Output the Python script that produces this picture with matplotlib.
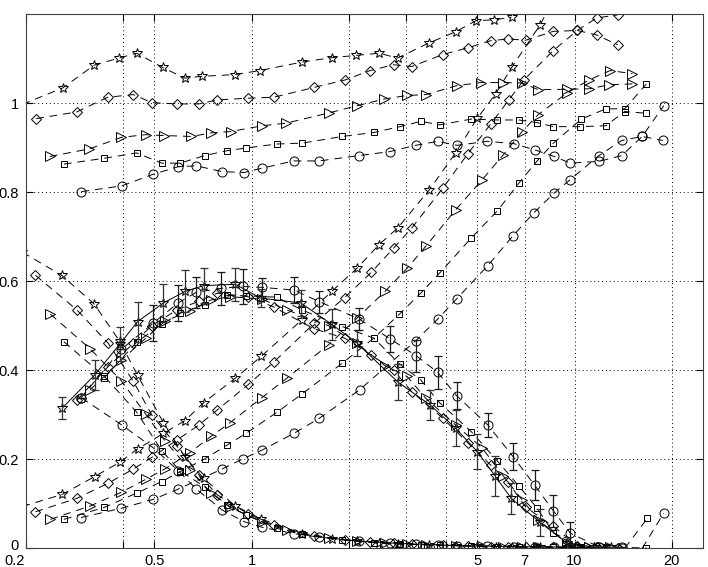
import matplotlib
matplotlib.use("Agg")
import matplotlib.pyplot as plt
from matplotlib.ticker import FixedLocator, FixedFormatter, NullLocator
from matplotlib.transforms import ScaledTranslation

# ---------------- data ----------------
# Group 1: upper, slowly rising curves
g1_star_x = [0.195, 0.26, 0.325, 0.388, 0.44, 0.53, 0.62, 0.70, 0.89, 1.06, 1.43, 1.77, 2.11, 2.48, 2.83, 3.54, 4.28, 4.95, 5.65, 6.38]
g1_star_y = [0.997, 1.034, 1.085, 1.101, 1.112, 1.080, 1.056, 1.060, 1.064, 1.073, 1.092, 1.102, 1.107, 1.112, 1.101, 1.135, 1.160, 1.185, 1.187, 1.193]
g1_dia_x = [0.215, 0.287, 0.358, 0.43, 0.49, 0.586, 0.686, 0.783, 0.977, 1.17, 1.56, 1.95, 2.33, 2.75, 3.13, 3.91, 4.67, 5.5, 6.24, 7.05, 8.6, 10.2, 11.7, 13.6]
g1_dia_y = [0.965, 0.980, 1.013, 1.019, 1.001, 0.998, 0.998, 1.007, 1.011, 1.013, 1.035, 1.052, 1.073, 1.086, 1.082, 1.109, 1.124, 1.140, 1.144, 1.141, 1.161, 1.163, 1.153, 1.131]
g1_tri_x = [0.237, 0.314, 0.395, 0.47, 0.535, 0.65, 0.75, 0.86, 1.08, 1.28, 1.74, 2.12, 2.57, 3.03, 3.47, 4.31, 5.12, 6.0, 6.9, 7.72, 9.45, 11.1, 12.8, 15.1]
g1_tri_y = [0.880, 0.897, 0.923, 0.929, 0.927, 0.925, 0.933, 0.936, 0.949, 0.955, 0.978, 0.994, 1.009, 1.017, 1.019, 1.039, 1.046, 1.046, 1.045, 1.030, 1.031, 1.032, 1.041, 1.043]
g1_sq_x = [0.262, 0.35, 0.44, 0.527, 0.6, 0.715, 0.84, 0.96, 1.195, 1.435, 1.91, 2.39, 2.88, 3.34, 3.82, 4.79, 5.77, 6.72, 7.66, 8.6, 10.4, 12.5, 14.3, 16.7]
g1_sq_y = [0.863, 0.876, 0.888, 0.865, 0.865, 0.882, 0.893, 0.899, 0.908, 0.910, 0.925, 0.934, 0.947, 0.959, 0.951, 0.964, 0.962, 0.962, 0.956, 0.947, 0.947, 0.949, 0.981, 0.977]
g1_ci_x = [0.297, 0.396, 0.495, 0.593, 0.674, 0.81, 0.947, 1.08, 1.35, 1.62, 2.15, 2.68, 3.22, 3.77, 4.33, 5.36, 6.48, 7.52, 8.65, 9.7, 11.9, 14.0, 16.2, 18.9]
g1_ci_y = [0.801, 0.814, 0.840, 0.857, 0.859, 0.846, 0.844, 0.854, 0.870, 0.870, 0.882, 0.891, 0.905, 0.914, 0.905, 0.914, 0.909, 0.895, 0.880, 0.865, 0.869, 0.882, 0.925, 0.994]

# Group 2: curves rising from the lower left
g2_star_x = [0.195, 0.259, 0.326, 0.39, 0.443, 0.533, 0.622, 0.71, 0.89, 1.07, 1.43, 1.77, 2.12, 2.48, 2.83, 3.55, 4.28, 5.0, 5.7, 6.39, 7.83, 9.0]
g2_star_y = [0.094, 0.121, 0.161, 0.193, 0.223, 0.258, 0.287, 0.327, 0.382, 0.431, 0.513, 0.577, 0.629, 0.682, 0.719, 0.805, 0.888, 0.966, 1.021, 1.080, 1.176, 1.26]
g2_dia_x = [0.214, 0.287, 0.359, 0.43, 0.49, 0.586, 0.687, 0.783, 0.977, 1.17, 1.56, 1.94, 2.35, 2.75, 3.13, 3.91, 4.67, 5.5, 6.26, 6.97, 8.6, 10.2, 11.7, 13.6]
g2_dia_y = [0.082, 0.112, 0.146, 0.178, 0.204, 0.243, 0.277, 0.311, 0.368, 0.418, 0.505, 0.563, 0.620, 0.674, 0.719, 0.809, 0.886, 0.953, 1.007, 1.052, 1.118, 1.163, 1.191, 1.198]
g2_tri_x = [0.238, 0.316, 0.395, 0.47, 0.538, 0.644, 0.75, 0.857, 1.074, 1.29, 1.73, 2.12, 2.59, 3.03, 3.46, 4.28, 5.18, 6.02, 6.88, 7.72, 9.45, 11.1, 12.9, 15.1]
g2_tri_y = [0.065, 0.095, 0.126, 0.155, 0.178, 0.215, 0.252, 0.282, 0.338, 0.383, 0.457, 0.517, 0.577, 0.629, 0.678, 0.760, 0.828, 0.884, 0.936, 0.974, 1.022, 1.052, 1.073, 1.066]
g2_sq_x = [0.262, 0.35, 0.44, 0.527, 0.6, 0.716, 0.84, 0.96, 1.195, 1.435, 1.91, 2.39, 2.87, 3.35, 3.83, 4.79, 5.77, 6.72, 7.66, 8.6, 10.5, 12.5, 14.3, 16.7]
g2_sq_y = [0.065, 0.092, 0.124, 0.150, 0.172, 0.201, 0.232, 0.258, 0.305, 0.347, 0.416, 0.472, 0.526, 0.574, 0.619, 0.697, 0.758, 0.820, 0.870, 0.910, 0.964, 0.987, 0.987, 1.043]
g2_ci_x = [0.296, 0.395, 0.496, 0.592, 0.81, 0.94, 1.08, 1.35, 1.62, 2.16, 3.22, 3.77, 4.31, 5.39, 6.45, 7.47, 8.65, 9.7, 11.9, 14.0, 16.2, 18.8]
g2_ci_y = [0.069, 0.090, 0.110, 0.133, 0.178, 0.201, 0.221, 0.258, 0.292, 0.356, 0.466, 0.515, 0.560, 0.635, 0.702, 0.753, 0.798, 0.828, 0.882, 0.916, 0.925, 0.916]

# Group 3: curves falling from the upper left into the tail
g3_star_x = [0.195, 0.258, 0.325, 0.39, 0.443, 0.533, 0.622, 0.71, 0.89, 1.07, 1.43, 1.77, 2.12, 2.48, 2.83, 3.55, 4.28, 5.0, 5.7, 6.39, 7.83, 9.5, 11.5]
g3_star_y = [0.665, 0.613, 0.549, 0.465, 0.389, 0.282, 0.205, 0.157, 0.095, 0.066, 0.032, 0.022, 0.016, 0.012, 0.010, 0.008, 0.006, 0.005, 0.004, 0.004, 0.003, 0.002, 0.002]
g3_dia_x = [0.214, 0.287, 0.359, 0.43, 0.49, 0.586, 0.686, 0.783, 0.977, 1.17, 1.56, 1.95, 2.33, 2.75, 3.13, 3.91, 4.67, 5.5, 6.24, 7.05, 8.6, 10.2, 11.7, 13.6]
g3_dia_y = [0.613, 0.536, 0.461, 0.375, 0.300, 0.230, 0.165, 0.120, 0.077, 0.052, 0.027, 0.019, 0.014, 0.011, 0.009, 0.007, 0.005, 0.004, 0.004, 0.003, 0.003, 0.002, 0.002, 0.001]
g3_tri_x = [0.238, 0.316, 0.395, 0.47, 0.538, 0.644, 0.75, 0.857, 1.074, 1.29, 1.73, 2.12, 2.59, 3.03, 3.46, 4.28, 5.18, 6.02, 6.88, 7.72, 9.45, 11.1]
g3_tri_y = [0.526, 0.448, 0.376, 0.301, 0.242, 0.176, 0.124, 0.092, 0.060, 0.040, 0.024, 0.017, 0.012, 0.010, 0.008, 0.006, 0.005, 0.004, 0.003, 0.003, 0.002, 0.002]
g3_sq_x = [0.262, 0.35, 0.44, 0.527, 0.6, 0.715, 0.84, 0.96, 1.195, 1.435, 1.91, 2.39, 2.88, 3.34, 3.82, 4.79, 5.77, 6.72, 7.66, 8.6, 10.4, 12.5]
g3_sq_y = [0.464, 0.386, 0.306, 0.219, 0.174, 0.138, 0.097, 0.075, 0.045, 0.031, 0.019, 0.013, 0.010, 0.008, 0.007, 0.005, 0.004, 0.003, 0.003, 0.002, 0.002, 0.001]
g3_ci_x = [0.297, 0.396, 0.495, 0.593, 0.674, 0.81, 0.947, 1.08, 1.35, 1.62, 2.15, 2.68, 3.22, 3.77, 4.33, 5.36, 6.48, 7.52, 8.65, 9.7, 11.9, 14.0]
g3_ci_y = [0.338, 0.277, 0.226, 0.174, 0.133, 0.086, 0.060, 0.047, 0.033, 0.025, 0.016, 0.012, 0.010, 0.008, 0.006, 0.005, 0.004, 0.003, 0.003, 0.002, 0.002, 0.001]

# Group 4: bump curves (with error bars on stars and circles)
b_star_x = [0.259, 0.326, 0.39, 0.443, 0.533, 0.622, 0.71, 0.89, 1.066, 1.42, 1.77, 2.12, 2.83, 3.57, 4.28, 5.0, 5.67, 6.37, 7.83, 9.5, 11.5, 13.0]
b_star_y = [0.315, 0.389, 0.458, 0.509, 0.551, 0.577, 0.590, 0.593, 0.562, 0.551, 0.503, 0.461, 0.374, 0.322, 0.270, 0.217, 0.163, 0.112, 0.058, 0.011, 0.003, 0.002]
b_star_err = [0.025, 0.033, 0.038, 0.045, 0.043, 0.047, 0.040, 0.037, 0.020, 0.030, 0.035, 0.030, 0.040, 0.033, 0.040, 0.040, 0.045, 0.035, 0.030, 0.015, 0.003, 0.002]
b_dia_x = [0.287, 0.358, 0.43, 0.49, 0.586, 0.686, 0.783, 0.977, 1.17, 1.56, 1.94, 2.35, 2.75, 3.13, 3.91, 4.67, 5.5, 6.24, 7.05, 8.6, 10.2, 11.7, 13.6]
b_dia_y = [0.332, 0.407, 0.460, 0.500, 0.535, 0.555, 0.573, 0.565, 0.542, 0.493, 0.472, 0.434, 0.400, 0.352, 0.292, 0.237, 0.187, 0.148, 0.093, 0.049, 0.006, 0.003, 0.001]
b_tri_x = [0.316, 0.395, 0.47, 0.538, 0.644, 0.75, 0.857, 1.074, 1.29, 1.73, 2.12, 2.59, 3.03, 3.46, 4.28, 5.18, 6.02, 6.88, 7.72, 9.45, 11.1, 12.9]
b_tri_y = [0.356, 0.423, 0.472, 0.510, 0.533, 0.558, 0.565, 0.560, 0.535, 0.500, 0.460, 0.410, 0.386, 0.337, 0.277, 0.225, 0.162, 0.109, 0.064, 0.012, 0.003, 0.002]
b_sq_x = [0.35, 0.44, 0.527, 0.6, 0.715, 0.84, 0.96, 1.195, 1.435, 1.91, 2.39, 2.88, 3.34, 3.82, 4.79, 5.77, 6.72, 7.66, 8.6, 10.4, 12.5, 16.7]
b_sq_y = [0.383, 0.463, 0.503, 0.528, 0.547, 0.568, 0.567, 0.564, 0.535, 0.498, 0.472, 0.413, 0.378, 0.327, 0.262, 0.196, 0.140, 0.090, 0.035, 0.004, 0.002, 0.001]
b_ci_x = [0.296, 0.395, 0.496, 0.592, 0.674, 0.806, 0.94, 1.08, 1.35, 1.62, 2.15, 2.69, 3.24, 3.77, 4.31, 5.39, 6.45, 7.52, 8.6, 9.7, 11.9, 14.0]
b_ci_y = [0.338, 0.447, 0.506, 0.551, 0.575, 0.584, 0.588, 0.586, 0.580, 0.554, 0.515, 0.470, 0.432, 0.395, 0.343, 0.277, 0.206, 0.142, 0.084, 0.034, 0.003, 0.002]
b_ci_err = [0.0, 0.0, 0.040, 0.040, 0.035, 0.037, 0.040, 0.020, 0.030, 0.025, 0.025, 0.030, 0.035, 0.038, 0.030, 0.027, 0.030, 0.034, 0.036, 0.024, 0.0, 0.0]

# short rising pieces at the lower right
w_sq_x = [14.3, 16.8]
w_sq_y = [0.0, 0.067]
w_ci_x = [16.2, 18.9]
w_ci_y = [0.0, 0.079]

xticks = [0.2, 0.4, 0.5, 1, 2, 3, 4, 5, 7, 10, 20]
xticklabels = ["0.2", "", "0.5", "1", "", "", "", "5", "7", "10", "20"]
yticks = [0, 0.2, 0.4, 0.6, 0.8, 1.0]
yticklabels = ["0", "0.2", "0.4", "0.6", "0.8", "1"]

# ---------------- plot ----------------
plt.rcParams['font.family'] = ['Liberation Sans', 'DejaVu Sans']
fig = plt.figure(figsize=(7.08, 5.67), dpi=100)
ax = fig.add_axes([26/708, 18.7/567, (703-26)/708, (548.3-14)/567])

DASH = (0, (8, 6))
mk = {
    'star': dict(marker='*', ms=7.5),
    'dia': dict(marker='D', ms=5.2),
    'tri': dict(marker='>', ms=6.5),
    'sq': dict(marker='s', ms=4.8),
    'ci': dict(marker='o', ms=6.5),
}

def curve(x, y, kind, ls=DASH, **kw):
    ax.plot(x, y, linestyle=ls, color='k', lw=0.7, mfc='none', mec='k',
            mew=0.7, clip_on=True, **mk[kind], **kw)

series = [
    (g1_star_x, g1_star_y, 'star'), (g1_dia_x, g1_dia_y, 'dia'),
    (g1_tri_x, g1_tri_y, 'tri'), (g1_sq_x, g1_sq_y, 'sq'), (g1_ci_x, g1_ci_y, 'ci'),
    (g2_star_x, g2_star_y, 'star'), (g2_dia_x, g2_dia_y, 'dia'),
    (g2_tri_x, g2_tri_y, 'tri'), (g2_sq_x, g2_sq_y, 'sq'), (g2_ci_x, g2_ci_y, 'ci'),
    (g3_star_x, g3_star_y, 'star'), (g3_dia_x, g3_dia_y, 'dia'),
    (g3_tri_x, g3_tri_y, 'tri'), (g3_sq_x, g3_sq_y, 'sq'), (g3_ci_x, g3_ci_y, 'ci'),
    (b_dia_x, b_dia_y, 'dia'), (b_tri_x, b_tri_y, 'tri'),
    (b_sq_x, b_sq_y, 'sq'), (b_ci_x, b_ci_y, 'ci'),
]
for x, y, k in series:
    curve(x, y, k)
curve(b_star_x, b_star_y, 'star', ls='-')

curve(w_sq_x, w_sq_y, 'sq', markevery=[1])
curve(w_ci_x, w_ci_y, 'ci', markevery=[1])

ax.errorbar(b_star_x, b_star_y, yerr=b_star_err, fmt='none', ecolor='0.2',
            elinewidth=0.9, capsize=3.2, capthick=0.9)
ax.errorbar(b_ci_x, b_ci_y, yerr=b_ci_err, fmt='none', ecolor='0.1',
            elinewidth=0.9, capsize=3.2, capthick=0.9)

ax.set_xscale('log')
ax.set_xlim(0.2, 25)
ax.set_ylim(0, 1.2)
ax.xaxis.set_major_locator(FixedLocator(xticks))
ax.xaxis.set_major_formatter(FixedFormatter(xticklabels))
ax.xaxis.set_minor_locator(NullLocator())
ax.yaxis.set_major_locator(FixedLocator(yticks))
ax.yaxis.set_major_formatter(FixedFormatter(yticklabels))
ax.grid(True, which='major', linestyle=(0, (1, 3)), color='k', linewidth=0.7)
ax.tick_params(which='both', direction='in', top=True, right=True,
               length=5, width=0.8, labelsize=10.5)
ax.tick_params(axis='x', pad=4)
ax.tick_params(axis='y', pad=5)
for s in ax.spines.values():
    s.set_linewidth(0.8)
    s.set_color('0.25')

fig.canvas.draw()
xl = ax.xaxis.get_major_ticks()[0].label1
xl.set_ha('right')
xl.set_transform(xl.get_transform() + ScaledTranslation(-1/72, 0, fig.dpi_scale_trans))
yl = ax.yaxis.get_major_ticks()[0].label1
yl.set_transform(yl.get_transform() + ScaledTranslation(0, 3/72, fig.dpi_scale_trans))

fig.savefig('out.png', dpi=100)
